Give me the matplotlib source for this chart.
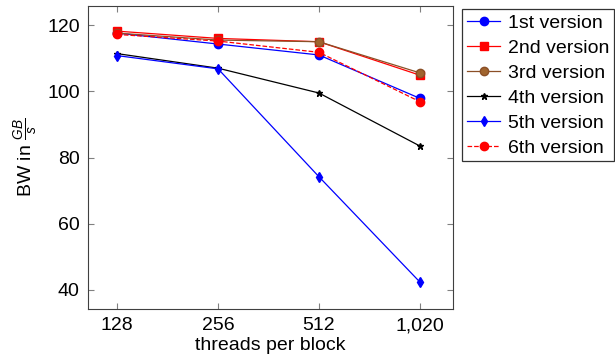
import matplotlib
matplotlib.use("Agg")
import matplotlib.pyplot as plt

plt.rcParams['font.family'] = ['Liberation Sans', 'DejaVu Sans']
plt.rcParams['mathtext.fontset'] = 'custom'
plt.rcParams['mathtext.it'] = 'Liberation Sans:italic'
plt.rcParams['mathtext.rm'] = 'Liberation Sans'

threads = ['128', '256', '512', '1,020']
v1 = [117.6, 114.3, 111.0, 97.9]
v2 = [118.2, 116.0, 115.0, 104.9]
v3 = [117.6, 115.5, 115.0, 105.6]
v4 = [111.4, 107.0, 99.5, 83.5]
v5 = [110.8, 106.8, 74.2, 42.4]
v6 = [117.2, 115.2, 111.8, 96.9]

series = [
    ('1st version', v1, dict(color='blue', marker='o', ms=6, ls='-')),
    ('2nd version', v2, dict(color='red', marker='s', ms=6, ls='-')),
    ('3rd version', v3, dict(color='#8b4f26', marker='o', ms=6, ls='-', markerfacecolor='#a0642e')),
    ('4th version', v4, dict(color='black', marker='*', ms=5, ls='-')),
    ('5th version', v5, dict(color='blue', marker='d', ms=5, ls='-')),
    ('6th version', v6, dict(color='red', marker='o', ms=6, ls='--')),
]

fig = plt.figure(figsize=(6.15, 3.62), dpi=100)
ax = fig.add_axes([88 / 615, 53 / 362, 365 / 615, 303 / 362])

x = range(len(threads))
for name, vals, style in series:
    ax.plot(x, vals, label=name, lw=0.9, **style)

ax.set_xticks(list(x))
ax.set_xticklabels(threads)
ax.set_xlim(-0.29, 3.33)
ax.set_ylim(34.2, 125.8)
ax.set_yticks([40, 60, 80, 100, 120])
ax.tick_params(direction='in', top=True, right=True, labelsize=14, color='#808080', length=4, pad=6)
for s in ax.spines.values():
    s.set_color('#404040')
ax.set_xlabel('threads per block', fontsize=14, labelpad=2)
ax.set_ylabel(r'BW in $\frac{GB}{s}$', fontsize=14, labelpad=6)

leg = ax.legend(loc='upper left', bbox_to_anchor=(1.025, 0.99), fontsize=14,
                frameon=True, fancybox=False, edgecolor='black', borderaxespad=0,
                handlelength=1.7, labelspacing=0.38, handletextpad=0.4, borderpad=0.25)
leg.get_frame().set_linewidth(0.9)

fig.savefig('out.png', dpi=100)
